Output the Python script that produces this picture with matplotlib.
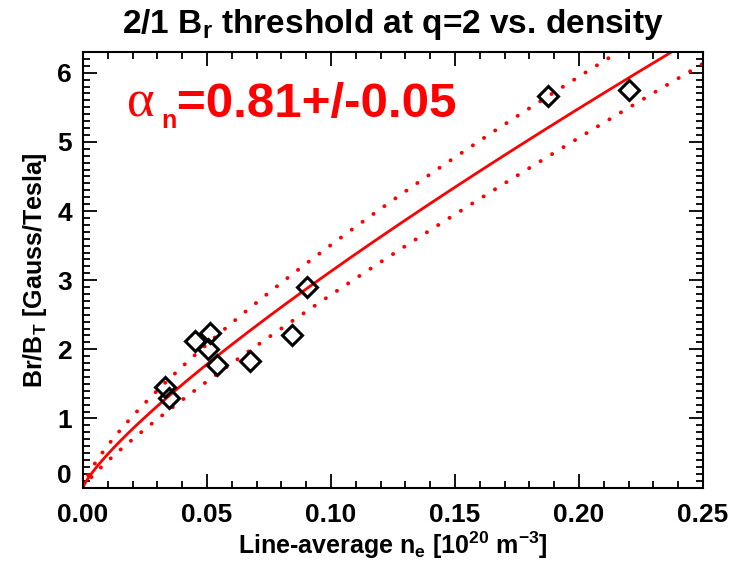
import numpy as np
import matplotlib.pyplot as plt
from matplotlib.ticker import MultipleLocator, FuncFormatter

# measured points (line-average density, Br/BT threshold)
density = [0.033, 0.0347, 0.045, 0.051, 0.0504, 0.054, 0.0674, 0.0843, 0.0903, 0.1874, 0.2203]
br_thresh = [1.46, 1.29, 2.12, 2.24, 2.00, 1.78, 1.83, 2.21, 2.90, 5.67, 5.75]

# power-law fit  Br/BT = A * n^alpha
fit_coef = 20.2
alpha = 0.81
d_alpha = 0.05

plt.rcParams['font.family'] = ['Liberation Sans', 'DejaVu Sans']
plt.rcParams['font.weight'] = 'bold'

fig = plt.figure(figsize=(7.36, 5.64), dpi=100)
ax = fig.add_axes([0.1128, 0.1355, 0.8424, 0.7723])

n = np.linspace(0, 0.25, 400)
ax.plot(n, fit_coef * n**alpha, color='red', lw=2.0, zorder=2)
ax.plot(n, fit_coef * n**(alpha - d_alpha), color='red', lw=2.8,
        linestyle=(0, (0.05, 3.4)), dash_capstyle='round', zorder=2)
ax.plot(n, fit_coef * n**(alpha + d_alpha), color='red', lw=2.8,
        linestyle=(0, (0.05, 3.4)), dash_capstyle='round', zorder=2)

ax.plot(density, br_thresh, linestyle='none', marker='D', markersize=10,
        markerfacecolor='none', markeredgecolor='black', markeredgewidth=2.2, zorder=3)

ax.set_xlim(0, 0.25)
ax.set_ylim(0, 6.3)
ax.xaxis.set_major_locator(MultipleLocator(0.05))
ax.xaxis.set_minor_locator(MultipleLocator(0.01))
ax.yaxis.set_major_locator(MultipleLocator(1))
ax.yaxis.set_minor_locator(MultipleLocator(0.1))
ax.xaxis.set_major_formatter(plt.FormatStrFormatter('%.2f'))
# "0" is drawn separately below so it can sit on top of the axis line
ax.yaxis.set_major_formatter(FuncFormatter(lambda v, p: '' if abs(v) < 1e-9 else '%d' % v))
ax.tick_params(which='both', direction='in', top=True, right=True, width=1.3,
               labelsize=19, colors='black')
ax.tick_params(which='major', length=10, pad=8)
ax.tick_params(axis='x', which='major', pad=11)
ax.tick_params(which='minor', length=5)
for s in ax.spines.values():
    s.set_linewidth(1.5)

ax.text(-0.018, 0, '0', transform=ax.get_yaxis_transform(), ha='right',
        va='bottom', fontsize=19, fontweight='bold')

ax.set_title(r'2/1 B$_\mathregular{r}$ threshold at q=2 vs. density',
             fontsize=24, fontweight='bold', pad=14)
ax.set_xlabel(r'Line-average n$_\mathregular{e}$ [10$^\mathregular{20}$ m$^\mathregular{-3}$]',
              fontsize=18, fontweight='bold', labelpad=2)
ax.set_ylabel(r'Br/B$_\mathregular{T}$ [Gauss/Tesla]', fontsize=18,
              fontweight='bold', labelpad=6)

fig.text(0.172, 0.7926, 'α', family=['Liberation Serif', 'DejaVu Serif'],
         fontsize=38, color='red', fontweight='normal', va='baseline')
fig.text(0.219, 0.773, 'n', fontsize=18, color='red', fontweight='bold', va='baseline')
fig.text(0.241, 0.7926, '=0.81+/-0.05', fontsize=35.5, color='red',
         fontweight='bold', va='baseline')

fig.savefig('out.png', dpi=100)
